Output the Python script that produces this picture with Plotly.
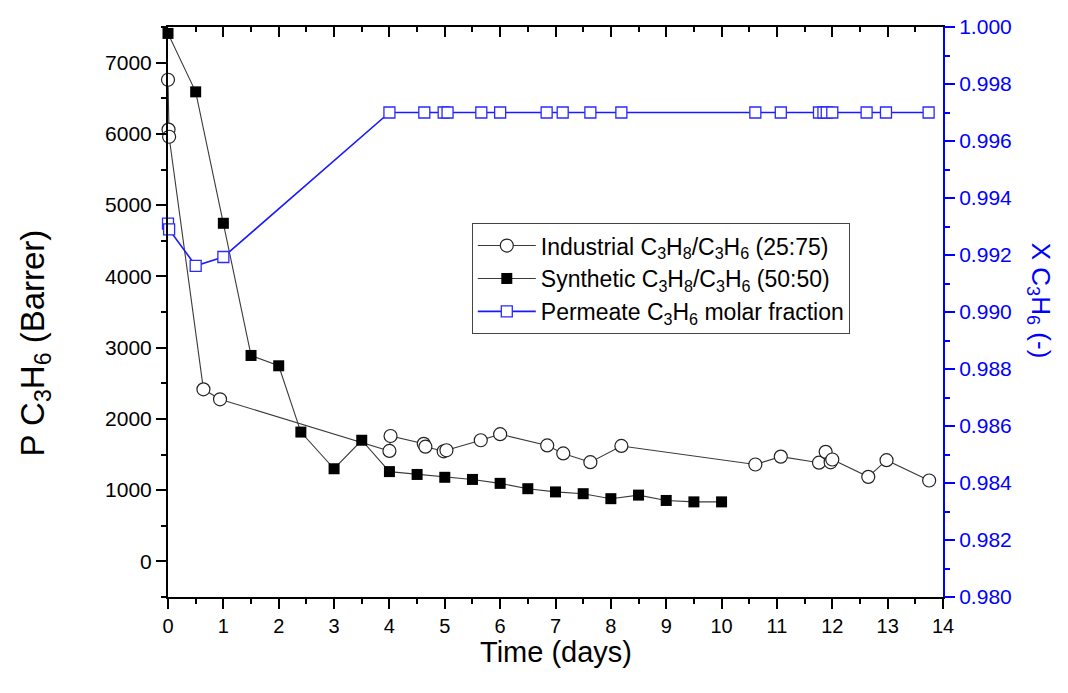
import plotly.graph_objects as go

# Industrial C3H8/C3H6 (25:75) feed: propylene permeability (Barrer)
ind_days = [0.0, 0.01, 0.02, 0.64, 0.94, 4.0, 4.02, 4.62, 4.65, 4.98, 5.03, 5.65, 6.0,
            6.85, 7.14, 7.63, 8.19, 10.61, 11.07, 11.76, 11.88, 11.97, 12.0, 12.65, 12.98, 13.75]
ind_perm = [6760, 6060, 5960, 2415, 2275, 1550, 1760, 1650, 1610, 1545, 1560, 1700, 1785,
            1627, 1515, 1392, 1620, 1360, 1470, 1385, 1537, 1390, 1430, 1186, 1420, 1135]

# Synthetic C3H8/C3H6 (50:50) feed: propylene permeability (Barrer)
syn_days = [0.0, 0.5, 1.0, 1.5, 2.0, 2.4, 3.0, 3.5, 4.0, 4.5, 5.0, 5.5, 6.0, 6.5,
            7.0, 7.5, 8.0, 8.5, 9.0, 9.5, 10.0]
syn_perm = [7410, 6590, 4745, 2890, 2745, 1815, 1300, 1700, 1260, 1220, 1180, 1150, 1095, 1020,
            975, 950, 880, 930, 855, 835, 835]

# Permeate C3H6 molar fraction (right axis)
frac_days = [0.0, 0.02, 0.5, 1.0, 4.0, 4.63, 4.98, 5.05, 5.66, 6.0, 6.84, 7.13, 7.63, 8.19,
             10.61, 11.07, 11.76, 11.84, 11.9, 12.0, 12.62, 12.97, 13.74]
frac_val = [0.9931, 0.9929, 0.99162, 0.99193, 0.997, 0.997, 0.997, 0.997, 0.997, 0.997,
            0.997, 0.997, 0.997, 0.997, 0.997, 0.997, 0.997, 0.997, 0.997, 0.997, 0.997,
            0.997, 0.997]

FONT = "Arial, Liberation Sans, sans-serif"
BLUE = "#0000ff"

fig = go.Figure()

fig.add_trace(go.Scatter(
    x=ind_days, y=ind_perm, mode="lines+markers",
    name="Industrial C<sub>3</sub>H<sub>8</sub>/C<sub>3</sub>H<sub>6</sub> (25:75)",
    line=dict(color="#3a3a3a", width=1.1),
    marker=dict(symbol="circle", size=13, color="white",
                line=dict(color="#222222", width=1.2)),
    cliponaxis=False,
))

fig.add_trace(go.Scatter(
    x=syn_days, y=syn_perm, mode="lines+markers",
    name="Synthetic C<sub>3</sub>H<sub>8</sub>/C<sub>3</sub>H<sub>6</sub> (50:50)",
    line=dict(color="#3a3a3a", width=1.1),
    marker=dict(symbol="square", size=11, color="black",
                line=dict(color="black", width=0)),
    cliponaxis=False,
))

fig.add_trace(go.Scatter(
    x=frac_days, y=frac_val, yaxis="y2", mode="lines+markers",
    name="Permeate C<sub>3</sub>H<sub>6</sub> molar fraction",
    line=dict(color="#1a1aff", width=1.6),
    marker=dict(symbol="square", size=11, color="white",
                line=dict(color="#2a2aff", width=1.3)),
    cliponaxis=False,
))

# empty trace so the top frame axis is drawn
fig.add_trace(go.Scatter(x=[], y=[], xaxis="x2", showlegend=False, hoverinfo="skip"))

fig.update_layout(
    width=1068, height=693,
    margin=dict(l=168, r=125, t=27, b=96, autoexpand=False),
    paper_bgcolor="white", plot_bgcolor="white",
    font=dict(family=FONT, size=20, color="black"),
    legend=dict(
        traceorder="normal",
        x=0.392, y=0.656, xanchor="left", yanchor="top",
        bgcolor="white", bordercolor="#444444", borderwidth=1,
        font=dict(size=23, color="black"),
        itemwidth=58,
    ),
    xaxis=dict(
        range=[0, 14], dtick=1, tick0=0, showgrid=False, zeroline=False,
        showline=True, linecolor="black", linewidth=2,
        ticks="outside", ticklen=10, tickwidth=2, tickcolor="black",
        minor=dict(dtick=0.5, ticks="outside", ticklen=5, tickwidth=2, tickcolor="black"),
        tickfont=dict(size=20),
    ),
    xaxis2=dict(
        range=[0, 14], overlaying="x", side="top", dtick=1, tick0=0,
        showgrid=False, zeroline=False, showticklabels=False,
        showline=True, linecolor="black", linewidth=2,
        ticks="inside", ticklen=10, tickwidth=2, tickcolor="black",
        minor=dict(dtick=0.5, ticks="inside", ticklen=5, tickwidth=2, tickcolor="black"),
    ),
    yaxis=dict(
        range=[-500, 7500], dtick=1000, tick0=0, showgrid=False, zeroline=False,
        showline=True, linecolor="black", linewidth=2,
        ticks="outside", ticklen=10, tickwidth=2, tickcolor="black",
        minor=dict(dtick=500, ticks="outside", ticklen=5, tickwidth=2, tickcolor="black"),
        tickfont=dict(size=21),
    ),
    yaxis2=dict(
        range=[0.98, 1.0], dtick=0.002, tick0=0.98, overlaying="y", side="right",
        showgrid=False, zeroline=False, tickformat=".3f",
        showline=True, linecolor=BLUE, linewidth=2,
        ticks="outside", ticklen=10, tickwidth=2, tickcolor=BLUE,
        minor=dict(dtick=0.001, ticks="outside", ticklen=5, tickwidth=2, tickcolor=BLUE),
        tickfont=dict(size=21, color=BLUE),
    ),
    annotations=[
        dict(text="Time (days)", xref="paper", yref="paper", x=0.5, y=-0.0965,
             xanchor="center", yanchor="middle", showarrow=False,
             font=dict(size=29, color="black")),
        dict(text="P C<sub>3</sub>H<sub>6</sub> (Barrer)", xref="paper", yref="paper",
             x=-0.172, y=0.446, xanchor="center", yanchor="middle", textangle=-90,
             showarrow=False, font=dict(size=33, color="black")),
        dict(text="X C<sub>3</sub>H<sub>6</sub> (-)", xref="paper", yref="paper",
             x=1.125, y=0.52, xanchor="center", yanchor="middle", textangle=90,
             showarrow=False, font=dict(size=26, color=BLUE)),
    ],
)

fig.write_html("out.html")
